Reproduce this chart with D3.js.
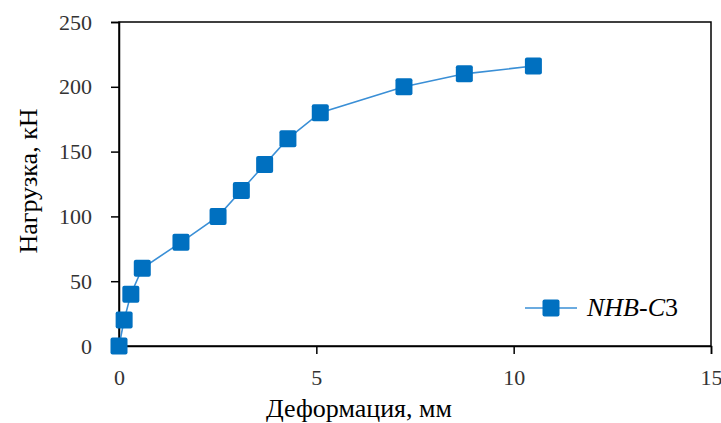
<!DOCTYPE html>
<html>
<head>
<meta charset="utf-8">
<script src="https://cdn.jsdelivr.net/npm/d3@7"></script>
</head>
<body style="margin:0;background:#fff">
<div id="dataviz"></div>
<script>
// data
var deformation = [0, 0.13, 0.3, 0.59, 1.57, 2.51, 3.1, 3.69, 4.28, 5.1, 7.22, 8.75, 10.5];
var load = [0, 20, 40, 60, 80, 100, 120, 140, 160, 180, 200, 210, 216];
var xTicks = [0, 5, 10, 15];
var yTicks = [0, 50, 100, 150, 200, 250];
var seriesName = "NHB-C";
var seriesSuffix = "3";

var FONT = "'Liberation Serif', 'Times New Roman', serif";

var width = 721, height = 423;
var margin = {top: 22, right: 10, bottom: 77, left: 119};
var w = width - margin.left - margin.right;
var h = height - margin.top - margin.bottom;

var svg = d3.select("#dataviz")
.append("svg")
    .attr("width", width)
    .attr("height", height);

var g = svg.append("g")
    .attr("transform", "translate(" + margin.left + "," + margin.top + ")");

var x = d3.scaleLinear().domain([0, 15]).range([0, w]);
var y = d3.scaleLinear().domain([0, 250]).range([h, 0]);

// frame
g.append("rect")
    .attr("width", w)
    .attr("height", h)
    .attr("fill", "none")
    .attr("stroke", "#000")
    .attr("stroke-width", 1.5);

// axes
var xAxis = g.append("g")
    .attr("transform", "translate(0," + h + ")")
    .call(d3.axisBottom(x).tickValues(xTicks).tickSize(8).tickPadding(15));
var yAxis = g.append("g")
    .call(d3.axisLeft(y).tickValues(yTicks).tickSize(8).tickPadding(19));

[xAxis, yAxis].forEach(function(a){
    a.attr("font-family", null);
    a.select(".domain").attr("stroke", "#000").attr("stroke-width", 1.5);
    a.selectAll(".tick line").attr("stroke", "#000").attr("stroke-width", 1.5);
    a.selectAll(".tick text")
        .attr("fill", "#333")
        .style("font-size", "22px")
        .style("font-family", FONT);
});

var data = deformation.map(function(d, i){ return {x: d, y: load[i]}; });

// line
g.append("path")
    .datum(data)
    .attr("fill", "none")
    .attr("stroke", "#3a8fd6")
    .attr("stroke-width", 1.6)
    .attr("d", d3.line().x(function(d){ return x(d.x); }).y(function(d){ return y(d.y); }));

// markers
var ms = 17;
g.selectAll(".pt")
    .data(data)
    .enter()
    .append("rect")
    .classed("pt", true)
    .attr("x", function(d){ return x(d.x) - ms/2; })
    .attr("y", function(d){ return y(d.y) - ms/2; })
    .attr("width", ms)
    .attr("height", ms)
    .attr("rx", 2)
    .attr("fill", "#0070c0");

// legend
var lg = svg.append("g").attr("transform", "translate(525,308)");
lg.append("line")
    .attr("x1", 0).attr("x2", 52)
    .attr("stroke", "#3a8fd6").attr("stroke-width", 1.6);
lg.append("rect")
    .attr("x", 26 - ms/2).attr("y", -ms/2)
    .attr("width", ms).attr("height", ms)
    .attr("rx", 2).attr("fill", "#0070c0");
var lt = lg.append("text")
    .attr("x", 62).attr("y", 8)
    .style("font-size", "26px")
    .style("font-family", FONT)
    .attr("fill", "#000");
lt.append("tspan").style("font-style", "italic").text(seriesName);
lt.append("tspan").text(seriesSuffix);

// axis titles
svg.append("text")
    .attr("x", 359)
    .attr("y", 417)
    .style("text-anchor", "middle")
    .style("font-size", "26px")
    .style("font-family", FONT)
    .text("Деформация, мм");

svg.append("text")
    .attr("transform", "translate(37," + 181 + ") rotate(-90)")
    .style("text-anchor", "middle")
    .style("font-size", "26px")
    .style("font-family", FONT)
    .text("Нагрузка, кН");
</script>
</body>
</html>
